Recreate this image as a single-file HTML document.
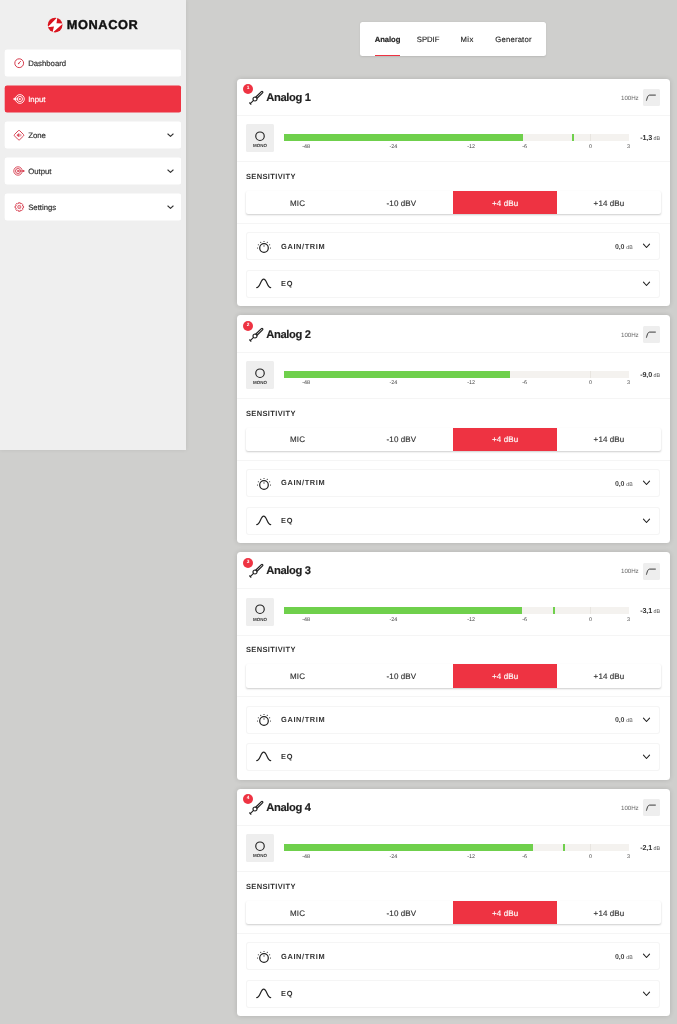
<!DOCTYPE html><html lang="en"><head><meta charset="utf-8"><title>MONACOR</title><style>
*{box-sizing:border-box;margin:0;padding:0}
html,body{width:677px;height:1024px;overflow:hidden}
body{background:#cfcfcd;font-family:"Liberation Sans",sans-serif;color:#333;position:relative;text-rendering:geometricPrecision}
.abs{position:absolute}
.t{position:absolute;white-space:nowrap;line-height:1}
#side{position:absolute;left:0;top:0;width:186.1px;height:450.2px;background:#efefef;box-shadow:0 0 4px rgba(0,0,0,.08)}
.nav{position:absolute;left:5px;width:176px;height:26px;background:#fff;border-radius:2px;box-shadow:0 0.5px 0 0 #fff,0 -0.5px 0 0 #fff,-0.3px 0 0 0 #fff}
.nav.act{background:#ee3342;box-shadow:0 0.5px 0 0 #ee3342,0 -0.5px 0 0 #ee3342,-0.3px 0 0 0 #ee3342}
.nav .lbl{position:absolute;left:23.2px;top:8.7px;font-size:7.75px;line-height:9px;color:#333;white-space:nowrap;-webkit-text-stroke:0.2px #333}
.nav.act .lbl{-webkit-text-stroke:0.2px #fff}
.nav.act .lbl{color:#fff}
.nav svg.ic{position:absolute;left:7.3px;top:6.1px;width:14px;height:14px;overflow:visible}
.nav svg.chev{position:absolute;left:162.1px;top:10.8px;width:7px;height:5px}
#tabs{position:absolute;left:360.2px;top:22.4px;width:185.8px;height:33.5px;background:#fff;border-radius:2.5px;box-shadow:0 0.5px 2px rgba(0,0,0,.10)}
#tabs .tab{position:absolute;top:12.6px;font-size:7.7px;line-height:9px;color:#2a2a2a;white-space:nowrap;-webkit-text-stroke:0.15px #2a2a2a}
.card{position:absolute;left:237.1px;width:432.7px;height:227.6px;background:#fff;border-radius:3.5px;box-shadow:0 0 5px rgba(0,0,0,.14)}
.hr{position:absolute;left:0;width:100%;height:1px;background:#f5f5f5}
.badge{position:absolute;left:5.9px;top:5.65px;width:10px;height:10px;border-radius:50%;background:#ee3342;color:#fff;font-size:4.8px;font-weight:bold;text-align:center;line-height:10px}
.title{position:absolute;left:29.1px;top:13.1px;font-size:11.2px;line-height:13px;font-weight:bold;color:#222;white-space:nowrap;letter-spacing:-0.36px;-webkit-text-stroke:0.15px #222}
.hz{position:absolute;left:383.9px;top:16.3px;font-size:6.2px;line-height:7px;color:#6a6a6a;white-space:nowrap;letter-spacing:-0.05px}
.fbtn{position:absolute;left:406.4px;top:10.7px;width:16.9px;height:16.8px;background:#eeeeee;border-radius:1.5px}
.mono{position:absolute;left:9px;top:45.8px;width:27.8px;height:27.7px;background:#eeeeee;border-radius:1.5px}
.mono span{position:absolute;left:0;width:27.8px;top:19px;text-align:center;font-size:4.5px;line-height:5px;font-weight:bold;color:#333;letter-spacing:0}
.bar{position:absolute;left:46.5px;top:55.2px;width:345.6px;height:7.1px;background:#f4f2ef}
.bar i{position:absolute;top:0;height:100%;background:#6fd04c}
.bar b{position:absolute;top:0;width:1px;height:100%;background:#e8e5e0}
.tk{position:absolute;top:65.1px;font-size:5.4px;line-height:6px;color:#444;white-space:nowrap;width:20px;margin-left:-10px;text-align:center}
.val{position:absolute;top:55.3px;font-size:7.2px;line-height:8px;font-weight:bold;color:#333;white-space:nowrap;right:9.6px;letter-spacing:-0.15px}
.val small{font-size:5.4px;font-weight:normal;color:#555;letter-spacing:0;margin-left:1.6px}
.sens{position:absolute;left:8.9px;top:93.3px;font-size:7.5px;line-height:9px;font-weight:bold;color:#333;letter-spacing:0.36px;white-space:nowrap}
.seg{position:absolute;left:8.6px;top:112.4px;width:415.2px;height:23.3px;background:#fff;border-radius:2px;box-shadow:0 1.2px 2px -0.3px rgba(0,0,0,.2)}
.seg div{position:absolute;top:0;height:100%;width:103.8px;text-align:center;font-size:8px;line-height:9px;padding-top:7.45px;color:#333;letter-spacing:0.1px;-webkit-text-stroke:0.15px #333}
.seg div.on{background:#ee3342;color:#fff;-webkit-text-stroke:0.15px #fff}
.row{position:absolute;left:9.4px;width:413.6px;height:28px;box-shadow:inset 0 0 0 1px #f5f5f5;border-radius:3px;background:#fff}
.row .lbl{position:absolute;left:34.6px;top:9.1px;font-size:7.4px;line-height:9px;font-weight:bold;color:#333;letter-spacing:0.62px;white-space:nowrap}
.row .v{position:absolute;right:27.4px;top:11.4px;font-size:7px;line-height:8px;font-weight:bold;color:#444;white-space:nowrap;letter-spacing:-0.2px}
.row .v small{font-size:5.3px;font-weight:normal;color:#555;letter-spacing:0;margin-left:2px}
.row svg.chev{position:absolute;left:395.4px;top:10.9px;width:9px;height:6.4px}
</style></head><body>
<div id="side"><svg class="abs" style="left:47px;top:16.5px;width:16px;height:16px" viewBox="0 0 16 16"><defs><clipPath id="lc"><circle cx="8.1" cy="8.05" r="7.35"/></clipPath></defs><circle cx="8.1" cy="8.05" r="7.35" fill="#d9141f"/><path clip-path="url(#lc)" d="M10.4 0.2 L0.6 10.2 L7.0 9.6 L5.3 16 L16 6.4 L9.5 6.3 Z" fill="#fff"/></svg><div class="t" style="left:66.7px;top:17.5px;font-size:12.8px;line-height:14px;font-weight:bold;color:#111;letter-spacing:0.6px;-webkit-text-stroke:0.4px #111">MONACOR</div>
<div class="nav" style="top:50.0px"><svg class="ic" viewBox="0 0 14 14"><circle cx="7.2" cy="7.2" r="4.4" fill="none" stroke="#d63a4c" stroke-width="1"/><path d="M6.5 7.6 L8.6 5.3" stroke="#d63a4c" stroke-width="0.9" stroke-linecap="round"/><circle cx="6.6" cy="7.5" r="0.75" fill="#d63a4c"/></svg><div class="lbl">Dashboard</div></div>
<div class="nav act" style="top:86.0px"><svg class="ic" viewBox="0 0 14 14"><g fill="none" stroke="#fff" stroke-width="0.9"><circle cx="7.9" cy="7" r="4.4"/><circle cx="7.9" cy="7" r="2.6"/><circle cx="7.9" cy="7" r="0.9" fill="#fff" stroke="none"/><path d="M1.2 7 L3.5 5.5 V8.5 Z" fill="#fff" stroke-width="0.4" stroke-linejoin="round"/><path d="M3 7 H6" stroke-linecap="round"/></g></svg><div class="lbl">Input</div></div>
<div class="nav" style="top:122.0px"><svg class="ic" viewBox="0 0 14 14"><g fill="none" stroke="#d63a4c" stroke-width="0.95" stroke-linejoin="round"><path d="M6.3 2.7 Q7.0 2.0 7.7 2.7 L11.5 6.5 Q12.2 7.2 11.5 7.9 L7.7 11.7 Q7.0 12.4 6.3 11.7 L2.5 7.9 Q1.8 7.2 2.5 6.5 Z"/><path d="M4.8 7.2 L6.8 5.6 V8.8 Z" fill="#d63a4c" stroke-width="0.5"/><path d="M7.8 6.1 V8.3 M8.9 6.6 V7.8" stroke-linecap="round" stroke-width="0.6"/></g></svg><div class="lbl">Zone</div><svg class="chev" viewBox="0 0 7 5"><path d="M0.9 1 L3.5 3.45 L6.1 1" fill="none" stroke="#333" stroke-width="1.1" stroke-linecap="round" stroke-linejoin="round"/></svg></div>
<div class="nav" style="top:158.0px"><svg class="ic" viewBox="0 0 14 14"><g fill="none" stroke="#d63a4c" stroke-width="0.9"><circle cx="6.0" cy="7" r="4.2"/><circle cx="6.0" cy="7" r="2.5"/><circle cx="6.0" cy="7" r="0.9" fill="#d63a4c" stroke="none"/><path d="M6.5 7 H11" stroke-linecap="round"/><circle cx="11.6" cy="7" r="0.95" fill="#d63a4c" stroke="none"/></g></svg><div class="lbl">Output</div><svg class="chev" viewBox="0 0 7 5"><path d="M0.9 1 L3.5 3.45 L6.1 1" fill="none" stroke="#333" stroke-width="1.1" stroke-linecap="round" stroke-linejoin="round"/></svg></div>
<div class="nav" style="top:194.0px"><svg class="ic" viewBox="0 0 14 14"><path d="M11.55 6.08 L11.55 7.92 L10.80 7.84 L10.37 8.88 L10.95 9.36 L9.66 10.65 L9.18 10.07 L8.14 10.50 L8.22 11.25 L6.38 11.25 L6.46 10.50 L5.42 10.07 L4.94 10.65 L3.65 9.36 L4.23 8.88 L3.80 7.84 L3.05 7.92 L3.05 6.08 L3.80 6.16 L4.23 5.12 L3.65 4.64 L4.94 3.35 L5.42 3.93 L6.46 3.50 L6.38 2.75 L8.22 2.75 L8.14 3.50 L9.18 3.93 L9.66 3.35 L10.95 4.64 L10.37 5.12 L10.80 6.16Z" fill="none" stroke="#d63a4c" stroke-width="0.9" stroke-linejoin="round"/><circle cx="7.3" cy="7.0" r="1.6" fill="none" stroke="#d63a4c" stroke-width="0.8"/><circle cx="7.3" cy="7.0" r="0.55" fill="#d63a4c"/></svg><div class="lbl">Settings</div><svg class="chev" viewBox="0 0 7 5"><path d="M0.9 1 L3.5 3.45 L6.1 1" fill="none" stroke="#333" stroke-width="1.1" stroke-linecap="round" stroke-linejoin="round"/></svg></div>
</div>
<div id="tabs"><div class="tab" style="left:14.6px;font-weight:bold;color:#222;letter-spacing:-0.1px">Analog</div><div class="tab" style="left:56.6px">SPDIF</div><div class="tab" style="left:100.3px;letter-spacing:0.4px">Mix</div><div class="tab" style="left:135.1px;letter-spacing:0.2px">Generator</div><div class="abs" style="left:14.6px;top:32.2px;width:24.8px;height:1.3px;background:#ee3342"></div></div>
<div class="card" style="top:78.7px">
<div class="badge">1</div><svg class="abs" style="left:9.7px;top:10.36px;width:20px;height:20px" viewBox="-8 -10 20 20"><g transform="rotate(-44)" fill="none" stroke="#222" stroke-width="1.2" stroke-linecap="round" stroke-linejoin="round"><path d="M-6.6 0 H-2 M-6.6 -0.9 V0.9"/><circle cx="0" cy="0" r="2.0"/><path d="M2.0 -0.85 H9.7 Q10.6 -0.85 10.6 0 Q10.6 0.85 9.7 0.85 H2.0"/></g></svg><div class="title">Analog 1</div>
<div class="hz">100Hz</div><div class="fbtn"><svg class="abs" style="left:0;top:0;width:16.5px;height:16.7px" viewBox="0 0 16.5 16.7"><path d="M3.5 11.3 C4.6 7.6 4.9 6.1 7 6.1 H12.4" fill="none" stroke="#333" stroke-width="0.95" stroke-linecap="round"/></svg></div>
<div class="hr" style="top:36.2px"></div>
<div class="mono"><svg class="abs" style="left:7.9px;top:5.45px;width:12px;height:12px" viewBox="0 0 12 12"><circle cx="6" cy="6.2" r="4.25" fill="none" stroke="#222" stroke-width="1.15"/></svg><span>MONO</span></div>
<div class="bar"><b style="left:306.3px"></b><i style="left:0;width:239.2px"></i><i style="left:288.4px;width:2px"></i></div>
<div class="tk" style="left:69.1px">-48</div>
<div class="tk" style="left:156.3px">-24</div>
<div class="tk" style="left:234.0px">-12</div>
<div class="tk" style="left:287.5px">-6</div>
<div class="tk" style="left:353.3px">0</div>
<div class="tk" style="left:391.3px">3</div>
<div class="val">-1,3<small>dB</small></div>
<div class="hr" style="top:82.7px"></div>
<div class="sens">SENSITIVITY</div>
<div class="seg"><div style="left:0">MIC</div><div style="left:103.8px">-10 dBV</div><div class="on" style="left:207.6px">+4 dBu</div><div style="left:311.4px">+14 dBu</div></div>
<div class="hr" style="top:144.2px"></div>
<div class="row" style="top:153.8px"><svg class="abs" style="left:9.46px;top:6.6px;width:16px;height:16px" viewBox="0 0 16 16"><circle cx="8" cy="9" r="4.3" fill="none" stroke="#222" stroke-width="1.2"/><path d="M8 6.6 V7.3" stroke="#333" stroke-width="0.9" stroke-linecap="round"/><circle cx="1.50" cy="9.00" r="0.55" fill="#222"/><circle cx="2.37" cy="5.75" r="0.55" fill="#222"/><circle cx="4.75" cy="3.37" r="0.55" fill="#222"/><circle cx="8.00" cy="2.50" r="0.55" fill="#222"/><circle cx="11.25" cy="3.37" r="0.55" fill="#222"/><circle cx="13.63" cy="5.75" r="0.55" fill="#222"/><circle cx="14.50" cy="9.00" r="0.55" fill="#222"/></svg><div class="lbl">GAIN/TRIM</div><div class="v">0,0<small>dB</small></div><svg class="chev" viewBox="0 0 9 6.4"><path d="M1.45 1.1 L4.5 4.5 L7.55 1.1" fill="none" stroke="#222" stroke-width="1.1" stroke-linecap="round" stroke-linejoin="round"/></svg></div>
<div class="row" style="top:191.3px"><svg class="abs" style="left:0;top:0;width:36px;height:28px" viewBox="0 0 36 28"><path d="M10.7 17.6 C14.2 17.6 14.6 9.2 17.7 9.2 C20.8 9.2 21.2 17.6 24.7 17.6" fill="none" stroke="#222" stroke-width="1.2" stroke-linecap="round"/></svg><div class="lbl">EQ</div><svg class="chev" viewBox="0 0 9 6.4"><path d="M1.45 1.1 L4.5 4.5 L7.55 1.1" fill="none" stroke="#222" stroke-width="1.1" stroke-linecap="round" stroke-linejoin="round"/></svg></div>
</div>
<div class="card" style="top:315.37px">
<div class="badge">2</div><svg class="abs" style="left:9.7px;top:10.36px;width:20px;height:20px" viewBox="-8 -10 20 20"><g transform="rotate(-44)" fill="none" stroke="#222" stroke-width="1.2" stroke-linecap="round" stroke-linejoin="round"><path d="M-6.6 0 H-2 M-6.6 -0.9 V0.9"/><circle cx="0" cy="0" r="2.0"/><path d="M2.0 -0.85 H9.7 Q10.6 -0.85 10.6 0 Q10.6 0.85 9.7 0.85 H2.0"/></g></svg><div class="title" style="top:13.7px">Analog 2</div>
<div class="hz">100Hz</div><div class="fbtn"><svg class="abs" style="left:0;top:0;width:16.5px;height:16.7px" viewBox="0 0 16.5 16.7"><path d="M3.5 11.3 C4.6 7.6 4.9 6.1 7 6.1 H12.4" fill="none" stroke="#333" stroke-width="0.95" stroke-linecap="round"/></svg></div>
<div class="hr" style="top:36.2px"></div>
<div class="mono"><svg class="abs" style="left:7.9px;top:5.45px;width:12px;height:12px" viewBox="0 0 12 12"><circle cx="6" cy="6.2" r="4.25" fill="none" stroke="#222" stroke-width="1.15"/></svg><span>MONO</span></div>
<div class="bar"><b style="left:306.3px"></b><i style="left:0;width:226.2px"></i></div>
<div class="tk" style="left:69.1px">-48</div>
<div class="tk" style="left:156.3px">-24</div>
<div class="tk" style="left:234.0px">-12</div>
<div class="tk" style="left:287.5px">-6</div>
<div class="tk" style="left:353.3px">0</div>
<div class="tk" style="left:391.3px">3</div>
<div class="val">-9,0<small>dB</small></div>
<div class="hr" style="top:82.7px"></div>
<div class="sens">SENSITIVITY</div>
<div class="seg"><div style="left:0">MIC</div><div style="left:103.8px">-10 dBV</div><div class="on" style="left:207.6px">+4 dBu</div><div style="left:311.4px">+14 dBu</div></div>
<div class="hr" style="top:144.2px"></div>
<div class="row" style="top:153.8px"><svg class="abs" style="left:9.46px;top:6.6px;width:16px;height:16px" viewBox="0 0 16 16"><circle cx="8" cy="9" r="4.3" fill="none" stroke="#222" stroke-width="1.2"/><path d="M8 6.6 V7.3" stroke="#333" stroke-width="0.9" stroke-linecap="round"/><circle cx="1.50" cy="9.00" r="0.55" fill="#222"/><circle cx="2.37" cy="5.75" r="0.55" fill="#222"/><circle cx="4.75" cy="3.37" r="0.55" fill="#222"/><circle cx="8.00" cy="2.50" r="0.55" fill="#222"/><circle cx="11.25" cy="3.37" r="0.55" fill="#222"/><circle cx="13.63" cy="5.75" r="0.55" fill="#222"/><circle cx="14.50" cy="9.00" r="0.55" fill="#222"/></svg><div class="lbl">GAIN/TRIM</div><div class="v">0,0<small>dB</small></div><svg class="chev" viewBox="0 0 9 6.4"><path d="M1.45 1.1 L4.5 4.5 L7.55 1.1" fill="none" stroke="#222" stroke-width="1.1" stroke-linecap="round" stroke-linejoin="round"/></svg></div>
<div class="row" style="top:191.3px"><svg class="abs" style="left:0;top:0;width:36px;height:28px" viewBox="0 0 36 28"><path d="M10.7 17.6 C14.2 17.6 14.6 9.2 17.7 9.2 C20.8 9.2 21.2 17.6 24.7 17.6" fill="none" stroke="#222" stroke-width="1.2" stroke-linecap="round"/></svg><div class="lbl">EQ</div><svg class="chev" viewBox="0 0 9 6.4"><path d="M1.45 1.1 L4.5 4.5 L7.55 1.1" fill="none" stroke="#222" stroke-width="1.1" stroke-linecap="round" stroke-linejoin="round"/></svg></div>
</div>
<div class="card" style="top:552.03px">
<div class="badge">3</div><svg class="abs" style="left:9.7px;top:10.36px;width:20px;height:20px" viewBox="-8 -10 20 20"><g transform="rotate(-44)" fill="none" stroke="#222" stroke-width="1.2" stroke-linecap="round" stroke-linejoin="round"><path d="M-6.6 0 H-2 M-6.6 -0.9 V0.9"/><circle cx="0" cy="0" r="2.0"/><path d="M2.0 -0.85 H9.7 Q10.6 -0.85 10.6 0 Q10.6 0.85 9.7 0.85 H2.0"/></g></svg><div class="title">Analog 3</div>
<div class="hz">100Hz</div><div class="fbtn"><svg class="abs" style="left:0;top:0;width:16.5px;height:16.7px" viewBox="0 0 16.5 16.7"><path d="M3.5 11.3 C4.6 7.6 4.9 6.1 7 6.1 H12.4" fill="none" stroke="#333" stroke-width="0.95" stroke-linecap="round"/></svg></div>
<div class="hr" style="top:36.2px"></div>
<div class="mono"><svg class="abs" style="left:7.9px;top:5.45px;width:12px;height:12px" viewBox="0 0 12 12"><circle cx="6" cy="6.2" r="4.25" fill="none" stroke="#222" stroke-width="1.15"/></svg><span>MONO</span></div>
<div class="bar"><b style="left:306.3px"></b><i style="left:0;width:238.5px"></i><i style="left:269.4px;width:2px"></i></div>
<div class="tk" style="left:69.1px">-48</div>
<div class="tk" style="left:156.3px">-24</div>
<div class="tk" style="left:234.0px">-12</div>
<div class="tk" style="left:287.5px">-6</div>
<div class="tk" style="left:353.3px">0</div>
<div class="tk" style="left:391.3px">3</div>
<div class="val">-3,1<small>dB</small></div>
<div class="hr" style="top:82.7px"></div>
<div class="sens">SENSITIVITY</div>
<div class="seg"><div style="left:0">MIC</div><div style="left:103.8px">-10 dBV</div><div class="on" style="left:207.6px">+4 dBu</div><div style="left:311.4px">+14 dBu</div></div>
<div class="hr" style="top:144.2px"></div>
<div class="row" style="top:153.8px"><svg class="abs" style="left:9.46px;top:6.6px;width:16px;height:16px" viewBox="0 0 16 16"><circle cx="8" cy="9" r="4.3" fill="none" stroke="#222" stroke-width="1.2"/><path d="M8 6.6 V7.3" stroke="#333" stroke-width="0.9" stroke-linecap="round"/><circle cx="1.50" cy="9.00" r="0.55" fill="#222"/><circle cx="2.37" cy="5.75" r="0.55" fill="#222"/><circle cx="4.75" cy="3.37" r="0.55" fill="#222"/><circle cx="8.00" cy="2.50" r="0.55" fill="#222"/><circle cx="11.25" cy="3.37" r="0.55" fill="#222"/><circle cx="13.63" cy="5.75" r="0.55" fill="#222"/><circle cx="14.50" cy="9.00" r="0.55" fill="#222"/></svg><div class="lbl">GAIN/TRIM</div><div class="v">0,0<small>dB</small></div><svg class="chev" viewBox="0 0 9 6.4"><path d="M1.45 1.1 L4.5 4.5 L7.55 1.1" fill="none" stroke="#222" stroke-width="1.1" stroke-linecap="round" stroke-linejoin="round"/></svg></div>
<div class="row" style="top:191.3px"><svg class="abs" style="left:0;top:0;width:36px;height:28px" viewBox="0 0 36 28"><path d="M10.7 17.6 C14.2 17.6 14.6 9.2 17.7 9.2 C20.8 9.2 21.2 17.6 24.7 17.6" fill="none" stroke="#222" stroke-width="1.2" stroke-linecap="round"/></svg><div class="lbl">EQ</div><svg class="chev" viewBox="0 0 9 6.4"><path d="M1.45 1.1 L4.5 4.5 L7.55 1.1" fill="none" stroke="#222" stroke-width="1.1" stroke-linecap="round" stroke-linejoin="round"/></svg></div>
</div>
<div class="card" style="top:788.7px">
<div class="badge">4</div><svg class="abs" style="left:9.7px;top:10.36px;width:20px;height:20px" viewBox="-8 -10 20 20"><g transform="rotate(-44)" fill="none" stroke="#222" stroke-width="1.2" stroke-linecap="round" stroke-linejoin="round"><path d="M-6.6 0 H-2 M-6.6 -0.9 V0.9"/><circle cx="0" cy="0" r="2.0"/><path d="M2.0 -0.85 H9.7 Q10.6 -0.85 10.6 0 Q10.6 0.85 9.7 0.85 H2.0"/></g></svg><div class="title">Analog 4</div>
<div class="hz">100Hz</div><div class="fbtn"><svg class="abs" style="left:0;top:0;width:16.5px;height:16.7px" viewBox="0 0 16.5 16.7"><path d="M3.5 11.3 C4.6 7.6 4.9 6.1 7 6.1 H12.4" fill="none" stroke="#333" stroke-width="0.95" stroke-linecap="round"/></svg></div>
<div class="hr" style="top:36.2px"></div>
<div class="mono"><svg class="abs" style="left:7.9px;top:5.45px;width:12px;height:12px" viewBox="0 0 12 12"><circle cx="6" cy="6.2" r="4.25" fill="none" stroke="#222" stroke-width="1.15"/></svg><span>MONO</span></div>
<div class="bar"><b style="left:306.3px"></b><i style="left:0;width:249.3px"></i><i style="left:279.4px;width:2px"></i></div>
<div class="tk" style="left:69.1px">-48</div>
<div class="tk" style="left:156.3px">-24</div>
<div class="tk" style="left:234.0px">-12</div>
<div class="tk" style="left:287.5px">-6</div>
<div class="tk" style="left:353.3px">0</div>
<div class="tk" style="left:391.3px">3</div>
<div class="val">-2,1<small>dB</small></div>
<div class="hr" style="top:82.7px"></div>
<div class="sens">SENSITIVITY</div>
<div class="seg"><div style="left:0">MIC</div><div style="left:103.8px">-10 dBV</div><div class="on" style="left:207.6px">+4 dBu</div><div style="left:311.4px">+14 dBu</div></div>
<div class="hr" style="top:144.2px"></div>
<div class="row" style="top:153.8px"><svg class="abs" style="left:9.46px;top:6.6px;width:16px;height:16px" viewBox="0 0 16 16"><circle cx="8" cy="9" r="4.3" fill="none" stroke="#222" stroke-width="1.2"/><path d="M8 6.6 V7.3" stroke="#333" stroke-width="0.9" stroke-linecap="round"/><circle cx="1.50" cy="9.00" r="0.55" fill="#222"/><circle cx="2.37" cy="5.75" r="0.55" fill="#222"/><circle cx="4.75" cy="3.37" r="0.55" fill="#222"/><circle cx="8.00" cy="2.50" r="0.55" fill="#222"/><circle cx="11.25" cy="3.37" r="0.55" fill="#222"/><circle cx="13.63" cy="5.75" r="0.55" fill="#222"/><circle cx="14.50" cy="9.00" r="0.55" fill="#222"/></svg><div class="lbl">GAIN/TRIM</div><div class="v">0,0<small>dB</small></div><svg class="chev" viewBox="0 0 9 6.4"><path d="M1.45 1.1 L4.5 4.5 L7.55 1.1" fill="none" stroke="#222" stroke-width="1.1" stroke-linecap="round" stroke-linejoin="round"/></svg></div>
<div class="row" style="top:191.3px"><svg class="abs" style="left:0;top:0;width:36px;height:28px" viewBox="0 0 36 28"><path d="M10.7 17.6 C14.2 17.6 14.6 9.2 17.7 9.2 C20.8 9.2 21.2 17.6 24.7 17.6" fill="none" stroke="#222" stroke-width="1.2" stroke-linecap="round"/></svg><div class="lbl">EQ</div><svg class="chev" viewBox="0 0 9 6.4"><path d="M1.45 1.1 L4.5 4.5 L7.55 1.1" fill="none" stroke="#222" stroke-width="1.1" stroke-linecap="round" stroke-linejoin="round"/></svg></div>
</div>
</body></html>
